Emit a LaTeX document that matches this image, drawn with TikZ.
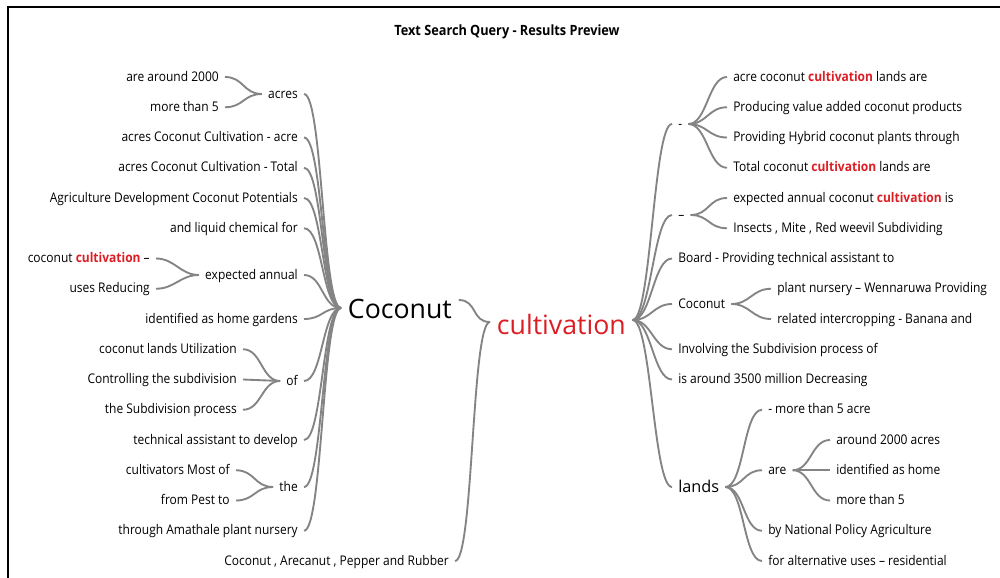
\documentclass[tikz,border=0pt]{standalone}
\usepackage{fontspec}
\setmainfont{Open Sans}[FakeStretch=0.9]
\newfontfamily\plainfont{Open Sans}
\definecolor{cred}{RGB}{220,30,36}
\definecolor{lgray}{RGB}{132,132,132}
\tikzset{
 wt/.style={inner xsep=4.5pt, inner ysep=0pt, text height=8pt, text depth=2pt, font=\fontsize{10}{12}\selectfont, text=black},
 wl/.style={wt, anchor=east},
 wr/.style={wt, anchor=west},
 conn/.style={draw=lgray, line width=1.4pt, out=0, in=180, distance=14pt},
 big/.style={inner xsep=5pt, inner ysep=0pt, text height=19pt, text depth=4pt, font=\plainfont\fontsize{20}{24}\selectfont, anchor=west},
 mid/.style={inner xsep=4.5pt, inner ysep=0pt, text height=11pt, text depth=3pt, font=\plainfont\fontsize{12.2}{14}\selectfont, anchor=west, text=black},
}
\newcommand{\hl}[1]{\textcolor{cred}{\textbf{#1}}}
\begin{document}
\begin{tikzpicture}[x=0.75pt,y=-0.75pt]
\useasboundingbox (0,0) rectangle (1000,578);
\fill[white] (0,0) rectangle (1000,578);
\draw[line width=1.2pt, black] (8,578) -- (8,7) -- (1000,7);
\node[font=\bfseries\fontsize{10.6}{12}\selectfont] (title) at (507,32) {Text Search Query - Results Preview};

% central words
\node[big] (coco) at (341,308) {Coconut};
\node[big, text=cred] (cult) at (490,324) {cultivation};

% left level 1
\node[wl] (a1) at (304,94) {acres};
\node[wl] (a2) at (304,137.5) {acres Coconut Cultivation - acre};
\node[wl] (a3) at (304,167.75) {acres Coconut Cultivation - Total};
\node[wl] (a4) at (304,198) {Agriculture Development Coconut Potentials};
\node[wl] (a5) at (304,228.25) {and liquid chemical for};
\node[wl] (a6) at (304,275) {expected annual};
\node[wl] (a7) at (304,319) {identified as home gardens};
\node[wl] (a8) at (304,381) {of};
\node[wl] (a9) at (304,440) {technical assistant to develop};
\node[wl] (a10) at (304,487) {the};
\node[wl] (a11) at (304,530.75) {through Amathale plant nursery};
\node[wl] (arub) at (455,561) {Coconut , Arecanut , Pepper and Rubber};

% left level 2
\node[wl] (a1a) at (225,77) {are around 2000};
\node[wl] (a1b) at (225,107.25) {more than 5};
\node[wl] (a6a) at (156,258.5) {coconut \hl{cultivation} –};
\node[wl] (a6b) at (156,288.75) {uses Reducing};
\node[wl] (a8a) at (243,349.25) {coconut lands Utilization};
\node[wl] (a8b) at (243,379.5) {Controlling the subdivision};
\node[wl] (a8c) at (243,409.75) {the Subdivision process};
\node[wl] (a10a) at (236,470.25) {cultivators Most of};
\node[wl] (a10b) at (236,500.5) {from Pest to};

% right level 1
\node[wr] (b1) at (672,124) {-};
\node[wr] (b2) at (672,215) {–};
\node[wr] (b3) at (672,258.5) {Board - Providing technical assistant to};
\node[wr] (b4) at (672,304) {Coconut};
\node[wr] (b5) at (672,349.25) {Involving the Subdivision process of};
\node[wr] (b6) at (672,379.5) {is around 3500 million Decreasing};
\node[mid] (b7) at (672,487) {lands};

% right level 2
\node[wr] (b1a) at (727,77) {acre coconut \hl{cultivation} lands are};
\node[wr] (b1b) at (727,107.25) {Producing value added coconut products};
\node[wr] (b1c) at (727,137.5) {Providing Hybrid coconut plants through};
\node[wr] (b1d) at (727,167.75) {Total coconut \hl{cultivation} lands are};
\node[wr] (b2a) at (727,198) {expected annual coconut \hl{cultivation} is};
\node[wr] (b2b) at (727,228.25) {Insects , Mite , Red weevil Subdividing};
\node[wr] (b4a) at (771,288.75) {plant nursery – Wennaruwa Providing};
\node[wr] (b4b) at (771,319) {related intercropping - Banana and};
\node[wr] (b7a) at (762,409.75) {- more than 5 acre};
\node[wr] (b7b) at (762,470.25) {are};
\node[wr] (b7c) at (762,530.75) {by National Policy Agriculture};
\node[wr] (b7d) at (762,561) {for alternative uses – residential};
\node[wr] (b7b1) at (830,440) {around 2000 acres};
\node[wr] (b7b2) at (830,470.25) {identified as home};
\node[wr] (b7b3) at (830,500.5) {more than 5};

% connectors left
\foreach \n in {a1,a2,a3,a4,a5,a6,a7,a8,a9,a10,a11}
  \draw[conn] (\n.east) to (coco.west);
\draw[conn] (a1a.east) to (a1.west);
\draw[conn] (a1b.east) to (a1.west);
\draw[conn] (a6a.east) to (a6.west);
\draw[conn] (a6b.east) to (a6.west);
\draw[conn] (a8a.east) to (a8.west);
\draw[conn] (a8b.east) to (a8.west);
\draw[conn] (a8c.east) to (a8.west);
\draw[conn] (a10a.east) to (a10.west);
\draw[conn] (a10b.east) to (a10.west);
\draw[conn] ([yshift=6pt]coco.east) to ([yshift=1.5pt]cult.west);
\draw[conn] (arub.east) to ([yshift=1.5pt]cult.west);

% connectors right
\foreach \n in {b1,b2,b3,b4,b5,b6,b7}
  \draw[conn] ([yshift=3pt]cult.east) to (\n.west);
\foreach \n in {b1a,b1b,b1c,b1d}
  \draw[conn] (b1.east) to (\n.west);
\foreach \n in {b2a,b2b}
  \draw[conn] (b2.east) to (\n.west);
\foreach \n in {b4a,b4b}
  \draw[conn] (b4.east) to (\n.west);
\foreach \n in {b7a,b7b,b7c,b7d}
  \draw[conn] (b7.east) to (\n.west);
\foreach \n in {b7b1,b7b2,b7b3}
  \draw[conn] (b7b.east) to (\n.west);
\end{tikzpicture}
\end{document}
